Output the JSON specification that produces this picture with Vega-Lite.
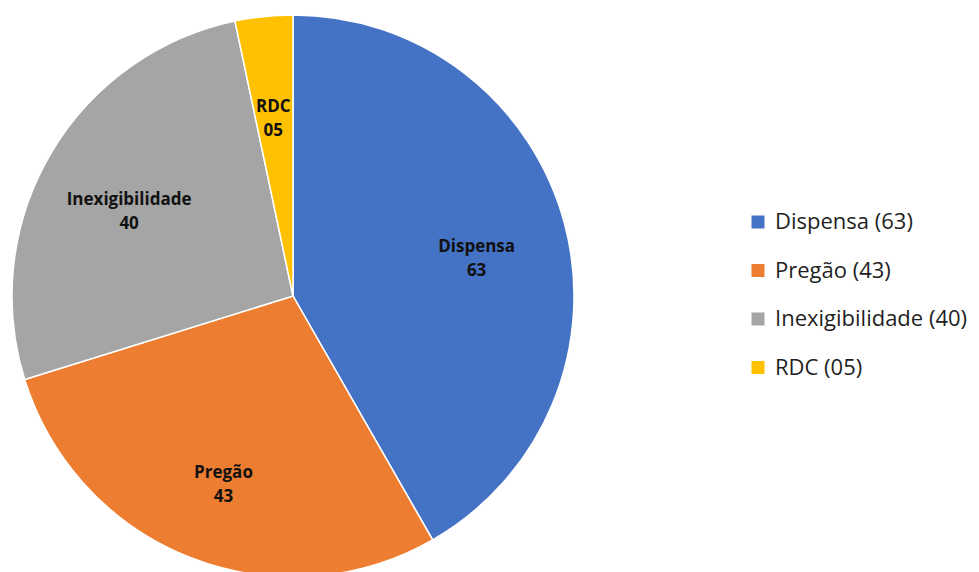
{
  "$schema": "https://vega.github.io/schema/vega-lite/v6.json",
  "width": 586,
  "height": 592,
  "padding": 0,
  "autosize": {"type": "pad"},
  "background": "white",
  "config": {"view": {"stroke": null}},
  "data": {
    "values": [
      {"ordem": 1, "metodo": "Dispensa", "rotulo": "63", "valor": 63, "legenda": "Dispensa (63)"},
      {"ordem": 2, "metodo": "Pregão", "rotulo": "43", "valor": 43, "legenda": "Pregão (43)"},
      {"ordem": 3, "metodo": "Inexigibilidade", "rotulo": "40", "valor": 40, "legenda": "Inexigibilidade (40)"},
      {"ordem": 4, "metodo": "RDC", "rotulo": "05", "valor": 5, "legenda": "RDC (05)"}
    ]
  },
  "transform": [
    {"calculate": "datum.metodo + '\\n' + datum.rotulo", "as": "texto"}
  ],
  "encoding": {
    "theta": {"field": "valor", "type": "quantitative", "stack": true},
    "order": {"field": "ordem", "type": "quantitative", "sort": "ascending"}
  },
  "layer": [
    {
      "mark": {"type": "arc", "outerRadius": 281, "stroke": "white", "strokeWidth": 1.5},
      "encoding": {
        "color": {
          "field": "legenda",
          "type": "nominal",
          "sort": ["Dispensa (63)", "Pregão (43)", "Inexigibilidade (40)", "RDC (05)"],
          "scale": {
            "domain": ["Dispensa (63)", "Pregão (43)", "Inexigibilidade (40)", "RDC (05)"],
            "range": ["#4472C4", "#ED7D31", "#A5A5A5", "#FFC000"]
          },
          "legend": {
            "title": null,
            "orient": "none",
            "legendX": 747,
            "legendY": 211,
            "symbolType": "square",
            "symbolSize": 169,
            "symbolStrokeWidth": 0,
            "labelFont": "Open Sans",
            "labelFontSize": 22,
            "labelColor": "#1f1f1f",
            "labelOffset": 6,
            "labelLimit": 300,
            "rowPadding": 26.5
          }
        }
      }
    },
    {
      "mark": {
        "type": "text",
        "radius": 190,
        "font": "Open Sans",
        "fontWeight": "bold",
        "fontSize": 17,
        "lineHeight": 24,
        "lineBreak": "\n",
        "color": "#111111",
        "align": "center",
        "baseline": "middle"
      },
      "encoding": {
        "text": {"field": "texto", "type": "nominal"}
      }
    }
  ]
}
